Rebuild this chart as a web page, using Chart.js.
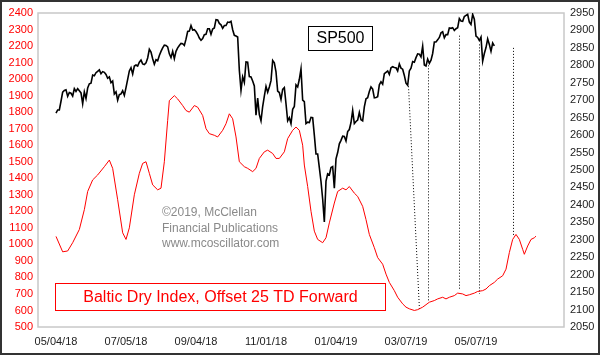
<!DOCTYPE html>
<html><head><meta charset="utf-8">
<script src="https://cdn.jsdelivr.net/npm/chart.js@4/dist/chart.umd.min.js"></script>
<style>html,body{margin:0;padding:0;background:#fff}#wrap{width:600px;height:355px;position:relative}</style>
</head><body><div id="wrap"><canvas id="c" width="600" height="355"></canvas></div>
<script>
// x axis: trading-day index, 0 = 05/04/18
const tickDays = [0, 42, 84, 126, 168, 210, 252];
const tickLabels = ['05/04/18', '07/05/18', '09/04/18', '11/01/18', '01/04/19', '03/07/19', '05/07/19'];

// SP500 daily closes (right axis)
const sp500 = [
 2663,2672,2672,2697,2723,2728,2730,2711,2722,2720,2712,2733,2725,2733,2727,2721,2690,2724,2705,
 2735,2747,2749,2772,2770,2779,2783,2787,2776,2782,2780,2774,2763,2767,2750,2755,2718,2724,2700,2716,2718,
 2727,2714,2736,2760,2784,2793,2775,2798,2801,2798,2809,2815,2804,2802,2807,2821,2846,2838,2819,2803,2816,
 2813,2828,2840,2850,2858,2857,2853,2833,2822,2840,2819,2840,2850,2857,2863,2862,2857,2875,2897,2898,2914,2901,2902,
 2897,2889,2878,2872,2877,2888,2889,2905,2905,2889,2904,2907,2931,2930,2920,2916,2906,2914,2914,
 2924,2923,2926,2902,2886,2884,2881,2786,2728,2767,2751,2810,2809,2768,2767,2755,2741,2657,2706,2659,2641,2682,2712,
 2740,2723,2738,2756,2814,2807,2781,2726,2722,2702,2731,2736,2690,2641,2650,2633,2674,2682,2744,2738,2760,
 2790,2700,2696,2633,2637,2636,2651,2650,2600,2546,2546,2507,2467,2417,2351,2468,2489,2486,2507,
 2510,2448,2532,2550,2575,2585,2597,2596,2583,2610,2616,2636,2671,2633,2639,2643,2665,2644,2641,2681,2704,
 2707,2725,2738,2732,2707,2708,2710,2744,2753,2746,2776,2780,2784,2774,2793,2796,2794,2793,2784,
 2804,2792,2789,2771,2749,2743,2784,2792,2811,2809,2822,2833,2832,2824,2855,2801,2798,2818,2806,2815,2834,
 2867,2867,2873,2880,2893,2896,2879,2888,2888,2907,2906,2908,2900,2905,2908,2934,2927,2926,2940,2943,2946,
 2924,2917,2946,2932,2884,2880,2871,2881,2812,2834,2851,2876,2860,2840,2864,2856
];

// Baltic Dry Index, offset 25 trading days forward (left axis)
const bdiDay = [0,4,7,10,14,17,19,22,25,29,32,34,37,40,42,44,47,50,52,54,56,58,61,63,65,67,68,71,73,76,78,80,83,85,88,90,92,95,97,100,102,104,106,108,110,113,115,118,120,122,125,127,130,132,134,137,139,142,144,146,148,149,151,153,155,157,160,162,164,167,169,172,174,176,179,181,184,186,188,191,193,196,198,200,203,205,208,210,212,215,217,220,222,224,227,229,232,234,236,239,241,244,246,248,251,253,256,258,260,263,265,268,270,272,274,276,278,280,281,283,285,287,288];
const bdiValue = [1048,955,960,1010,1090,1210,1320,1390,1420,1470,1510,1460,1270,1070,1030,1100,1300,1430,1490,1500,1430,1360,1330,1340,1500,1750,1870,1900,1880,1840,1810,1800,1840,1830,1780,1700,1670,1660,1650,1690,1730,1790,1760,1650,1500,1470,1460,1440,1460,1520,1560,1570,1550,1520,1520,1560,1640,1690,1710,1690,1600,1480,1350,1200,1080,1030,1010,1040,1130,1250,1320,1340,1330,1350,1310,1290,1230,1150,1060,980,920,880,820,770,720,680,640,620,610,600,605,620,635,650,660,670,680,670,680,690,705,700,690,695,705,715,720,730,750,770,790,810,850,950,1030,1060,1030,970,940,990,1030,1040,1050];

// axis ranges
const leftAxis = {min: 500, max: 2400, step: 100};
const rightAxis = {min: 2050, max: 2950, step: 50};
const xRange = {min: -10.8, max: 304.8};

// dotted connector lines: [day at SP500, SP500 value, day at BDI, BDI value]
const dottedLines = [
  [211, 2740, 218, 600],
  [223, 2800, 223, 660],
  [242, 2885, 242, 720],
  [254, 2860, 254, 700],
  [274, 2850, 274, 1050]
];

const FONT = "'Liberation Sans', Arial, sans-serif";

const decor = {
  id: 'decor',
  beforeDraw(chart) {
    const ctx = chart.ctx;
    ctx.save();
    ctx.fillStyle = '#fff';
    ctx.fillRect(0, 0, chart.width, chart.height);
    ctx.restore();
  },
  beforeDatasetsDraw(chart) {
    const {ctx, chartArea: a, scales} = chart;
    ctx.save();
    ctx.strokeStyle = '#c8c8c8';
    ctx.lineWidth = 1.5;
    ctx.strokeRect(a.left, a.top, a.right - a.left, a.bottom - a.top);
    ctx.strokeStyle = '#000';
    ctx.lineWidth = 1;
    ctx.setLineDash([1, 2]);
    dottedLines.forEach(l => {
      ctx.beginPath();
      ctx.moveTo(Math.round(scales.x.getPixelForValue(l[0])) + 0.5, scales.yR.getPixelForValue(l[1]));
      ctx.lineTo(Math.round(scales.x.getPixelForValue(l[2])) + 0.5, scales.yL.getPixelForValue(l[3]));
      ctx.stroke();
    });
    ctx.setLineDash([]);
    ctx.fillStyle = '#8a8a8a';
    ctx.font = '12px ' + FONT;
    ctx.textBaseline = 'middle';
    ctx.textAlign = 'left';
    const cx = a.left + 124;
    ctx.fillText('\u00A92019, McClellan', cx, 213);
    ctx.fillText('Financial Publications', cx, 229);
    ctx.fillText('www.mcoscillator.com', cx, 244);
    ctx.restore();
  },
  afterDraw(chart) {
    const {ctx} = chart;
    ctx.save();
    ctx.fillStyle = '#fff';
    ctx.fillRect(308, 26, 64, 24);
    ctx.strokeStyle = '#000';
    ctx.lineWidth = 1;
    ctx.strokeRect(308.5, 26.5, 64, 24);
    ctx.fillStyle = '#000';
    ctx.font = '16px ' + FONT;
    ctx.textAlign = 'center';
    ctx.textBaseline = 'middle';
    ctx.fillText('SP500', 340.5, 39);
    ctx.fillStyle = '#fff';
    ctx.fillRect(55, 283, 330, 27);
    ctx.strokeStyle = '#ff0000';
    ctx.strokeRect(55.5, 283.5, 330, 27);
    ctx.fillStyle = '#ff0000';
    ctx.fillText('Baltic Dry Index, Offset 25 TD Forward', 220.5, 297.5);
    ctx.strokeStyle = '#333';
    ctx.lineWidth = 2;
    ctx.strokeRect(1, 1, chart.width - 2, chart.height - 2);
    ctx.restore();
  }
};

new Chart(document.getElementById('c'), {
  type: 'line',
  data: {
    datasets: [
      {label: 'SP500', data: sp500.map((v, i) => ({x: i, y: v})), yAxisID: 'yR',
       borderColor: '#000', borderWidth: 1.6, pointRadius: 0, tension: 0, fill: false},
      {label: 'BDI', data: bdiDay.map((d, i) => ({x: d, y: bdiValue[i]})), yAxisID: 'yL',
       borderColor: '#ff0000', borderWidth: 1, pointRadius: 0, tension: 0, fill: false}
    ]
  },
  options: {
    responsive: false, animation: false, devicePixelRatio: 1,
    layout: {padding: {top: 13, left: 0, right: 0, bottom: 0}},
    plugins: {legend: {display: false}, tooltip: {enabled: false}},
    scales: {
      x: {
        type: 'linear', position: 'bottom', min: xRange.min, max: xRange.max,
        grid: {display: false, drawTicks: false}, border: {display: false},
        afterBuildTicks: s => { s.ticks = tickDays.map(v => ({value: v})); },
        afterFit: s => { s.height = 28; },
        ticks: {autoSkip: false, maxRotation: 0, padding: 8, color: '#222',
          font: {family: FONT, size: 11},
          callback: v => { const k = tickDays.indexOf(v); return k >= 0 ? tickLabels[k] : ''; }}
      },
      yL: {
        type: 'linear', position: 'left', min: leftAxis.min, max: leftAxis.max,
        grid: {display: false, drawTicks: false}, border: {display: false},
        afterFit: s => { s.width = 38; },
        ticks: {stepSize: leftAxis.step, padding: 5, color: '#ff0000', font: {family: FONT, size: 11},
          callback: v => String(v)}
      },
      yR: {
        type: 'linear', position: 'right', min: rightAxis.min, max: rightAxis.max,
        grid: {display: false, drawTicks: false}, border: {display: false},
        afterFit: s => { s.width = 36; },
        ticks: {stepSize: rightAxis.step, padding: 6, color: '#222', font: {family: FONT, size: 11},
          callback: v => String(v)}
      }
    }
  },
  plugins: [decor]
});
</script></body></html>
